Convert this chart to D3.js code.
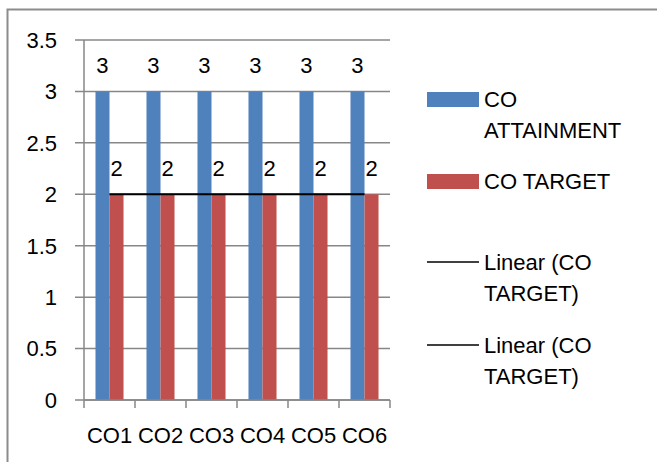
<!DOCTYPE html>
<html>
<head>
<meta charset="utf-8">
<script src="https://cdn.jsdelivr.net/npm/d3@7"></script>
<style>
  body { margin: 0; background: #fff; }
  svg text { font-family: "Liberation Sans", Arial, sans-serif; fill: #000; }
</style>
</head>
<body>
<div id="chart"></div>
<script>
// chart data
var categories = ["CO1", "CO2", "CO3", "CO4", "CO5", "CO6"];
var attainment = [3, 3, 3, 3, 3, 3];
var target = [2, 2, 2, 2, 2, 2];
var yTicks = [0, 0.5, 1, 1.5, 2, 2.5, 3, 3.5];
var seriesNames = ["CO ATTAINMENT", "CO TARGET"];
var legendLabels = [["CO", "ATTAINMENT"], ["CO TARGET"], ["Linear (CO", "TARGET)"], ["Linear (CO", "TARGET)"]];

var width = 657, height = 462;
var colors = ["#4F81BD", "#C0504D"];
var gridColor = "#878787";
var fontSize = "22px";

var svg = d3.select("#chart").append("svg")
    .attr("width", width)
    .attr("height", height);

// outer frame (only top and left edges show in the picture)
svg.append("rect")
    .attr("x", 7.5).attr("y", 9.5)
    .attr("width", width + 20).attr("height", height + 20)
    .attr("fill", "none")
    .attr("stroke", "#8c8c8c")
    .attr("stroke-width", 2);

var plot = {left: 84, right: 390, top: 40, bottom: 400};

var x = d3.scaleBand()
    .domain(categories)
    .range([plot.left, plot.right])
    .padding(0);

var xs = d3.scaleBand()
    .domain(seriesNames)
    .range([0, x.bandwidth()])
    .paddingInner(0)
    .paddingOuter(0.82);

var y = d3.scaleLinear()
    .domain([0, 3.5])
    .range([plot.bottom, plot.top]);

// gridlines
svg.append("g")
    .selectAll("line")
    .data(yTicks)
    .enter()
    .append("line")
    .attr("x1", plot.left - 9)
    .attr("x2", plot.right)
    .attr("y1", function(d) { return y(d); })
    .attr("y2", function(d) { return y(d); })
    .attr("stroke", gridColor)
    .attr("stroke-width", 1.5);

// y tick labels
svg.append("g")
    .selectAll("text")
    .data(yTicks)
    .enter()
    .append("text")
    .attr("x", 57)
    .attr("y", function(d) { return y(d); })
    .attr("dy", "0.36em")
    .attr("text-anchor", "end")
    .style("font-size", fontSize)
    .text(function(d) { return d; });

// bars
var series = [attainment, target];
var groups = svg.append("g")
    .selectAll("g")
    .data(series)
    .enter()
    .append("g")
    .attr("fill", function(d, i) { return colors[i]; });

groups.selectAll("rect")
    .data(function(d, i) {
        return d.map(function(v, j) { return {s: i, cat: categories[j], value: v}; });
    })
    .enter()
    .append("rect")
    .attr("x", function(d) { return x(d.cat) + xs(seriesNames[d.s]); })
    .attr("width", xs.bandwidth())
    .attr("y", function(d) { return y(d.value); })
    .attr("height", function(d) { return y(0) - y(d.value); });

// value labels
groups.selectAll("text")
    .data(function(d, i) {
        return d.map(function(v, j) { return {s: i, cat: categories[j], value: v}; });
    })
    .enter()
    .append("text")
    .attr("x", function(d) { return x(d.cat) + xs(seriesNames[d.s]) + xs.bandwidth() / 2; })
    .attr("y", function(d) { return y(d.value) - 18; })
    .attr("text-anchor", "middle")
    .style("font-size", fontSize)
    .style("fill", "#000")
    .text(function(d) { return d.value; });

// x axis line and ticks
svg.append("line")
    .attr("x1", plot.left).attr("x2", plot.right)
    .attr("y1", y(0)).attr("y2", y(0))
    .attr("stroke", gridColor).attr("stroke-width", 1.5);

svg.append("line")
    .attr("x1", plot.left).attr("x2", plot.left)
    .attr("y1", plot.top).attr("y2", plot.bottom)
    .attr("stroke", gridColor).attr("stroke-width", 1.5);

var catEdges = categories.map(function(c) { return x(c); }).concat([plot.right]);
svg.append("g")
    .selectAll("line")
    .data(catEdges)
    .enter()
    .append("line")
    .attr("x1", function(d) { return d; })
    .attr("x2", function(d) { return d; })
    .attr("y1", y(0))
    .attr("y2", y(0) + 8)
    .attr("stroke", gridColor)
    .attr("stroke-width", 1.5);

svg.append("g")
    .selectAll("text")
    .data(categories)
    .enter()
    .append("text")
    .attr("x", function(d) { return x(d) + x.bandwidth() / 2; })
    .attr("y", 443)
    .attr("text-anchor", "middle")
    .style("font-size", fontSize)
    .text(function(d) { return d; });

// linear trend line for the target series
var n = target.length;
var meanX = d3.mean(target, function(d, i) { return i; });
var meanY = d3.mean(target);
var num = d3.sum(target, function(d, i) { return (i - meanX) * (d - meanY); });
var den = d3.sum(target, function(d, i) { return (i - meanX) * (i - meanX); });
var slope = den ? num / den : 0;
var intercept = meanY - slope * meanX;

var trend = d3.line()
    .x(function(d) { return x(categories[d]) + x.bandwidth() / 2; })
    .y(function(d) { return y(intercept + slope * d); });

svg.append("path")
    .datum([0, n - 1])
    .attr("d", trend)
    .attr("fill", "none")
    .attr("stroke", "#000")
    .attr("stroke-width", 2);

// legend
var legendY = [99.5, 181.5, 262, 345];
var legend = svg.append("g")
    .selectAll("g")
    .data(legendLabels)
    .enter()
    .append("g")
    .attr("transform", function(d, i) { return "translate(427," + legendY[i] + ")"; });

legend.each(function(d, i) {
    var g = d3.select(this);
    if (i < 2) {
        g.append("rect")
            .attr("x", 0).attr("y", -7.5)
            .attr("width", 52).attr("height", 15)
            .attr("fill", colors[i]);
    } else {
        g.append("line")
            .attr("x1", 0).attr("x2", 52)
            .attr("y1", 0).attr("y2", 0)
            .attr("stroke", "#000")
            .attr("stroke-width", 1.5);
    }
    g.selectAll("text")
        .data(d)
        .enter()
        .append("text")
        .attr("x", 57)
        .attr("y", function(t, k) { return k * 31; })
        .attr("dy", "0.36em")
        .style("font-size", fontSize)
        .text(function(t) { return t; });
});
</script>
</body>
</html>
